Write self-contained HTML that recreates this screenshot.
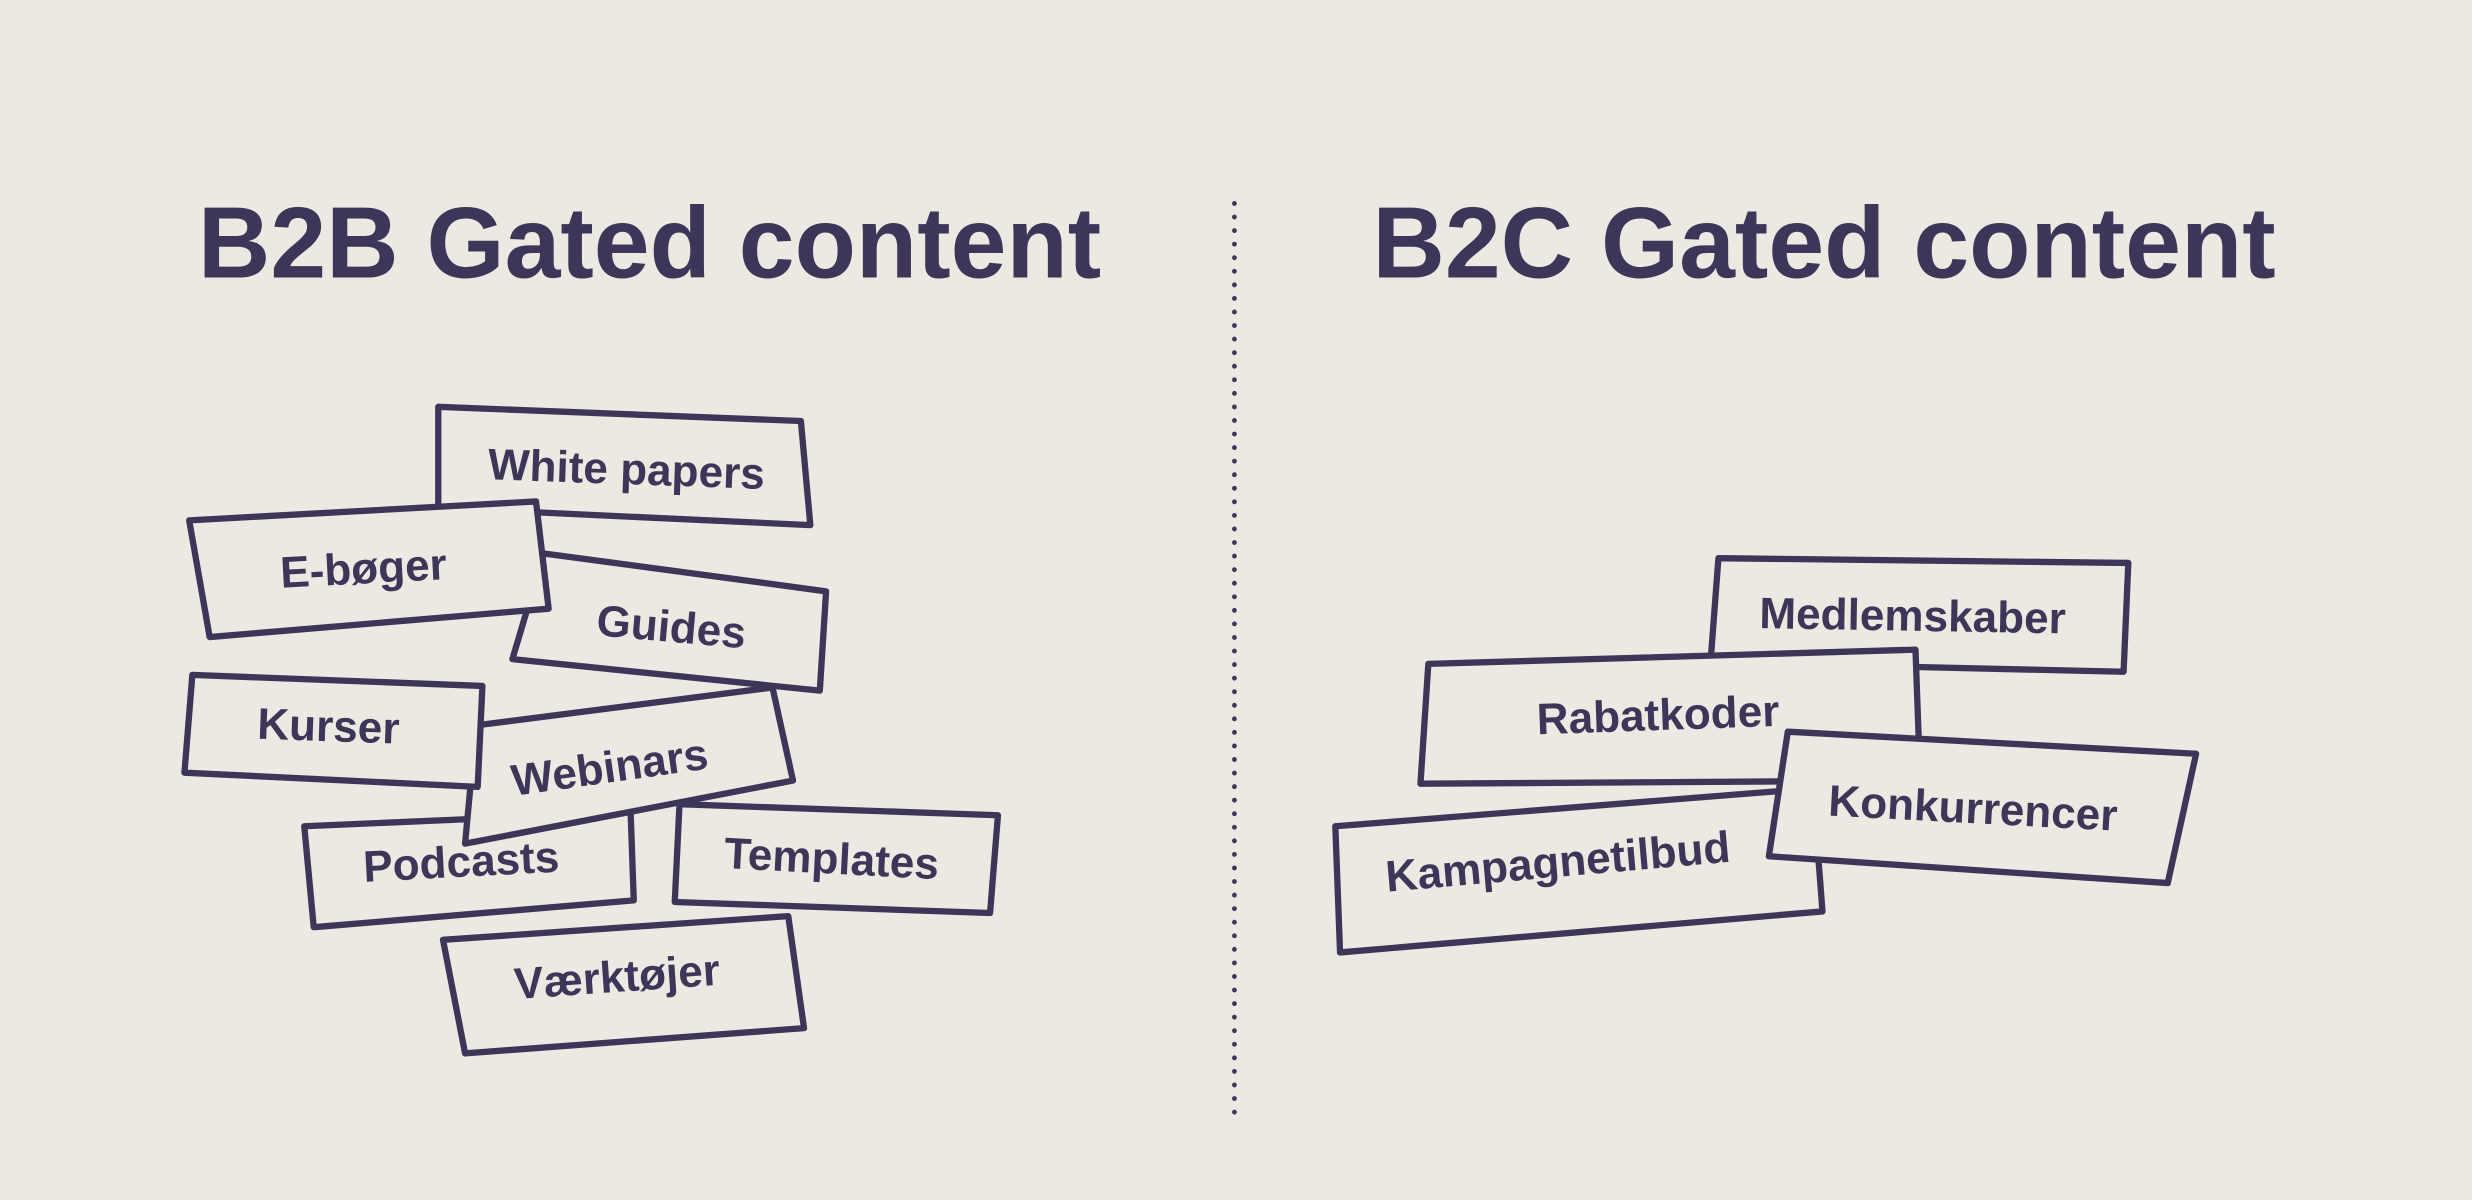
<!DOCTYPE html>
<html><head><meta charset="utf-8"><style>
html,body{margin:0;padding:0;background:#ebe9e1;}
svg{display:block}
text{font-family:"Liberation Sans",sans-serif;font-weight:bold;fill:#3d3658}
</style></head><body>
<svg width="2472" height="1200" viewBox="0 0 1568 761" preserveAspectRatio="none" xmlns="http://www.w3.org/2000/svg">
<rect width="1568" height="761" fill="#ebe9e1"/>
<text x="412" y="176" font-size="64" text-anchor="middle" textLength="573" lengthAdjust="spacingAndGlyphs">B2B Gated content</text>
<text x="1157" y="176" font-size="64" text-anchor="middle" textLength="573" lengthAdjust="spacingAndGlyphs">B2C Gated content</text>
<line x1="783" y1="129" x2="783" y2="706" stroke="#3d3658" stroke-width="3" stroke-dasharray="0.1 8.5" stroke-linecap="round"/>
<g fill="#ebe9e1" stroke="#3d3658" stroke-width="4" stroke-linejoin="round">
<polygon points="278,258 508,267 514,333 278,322"/>
<polygon points="431,510 633,517 628,579 428,572"/>
<polygon points="193,524 400,515 402,571 199,588"/>
<polygon points="302,460 490,436 503,495 295,535"/>
<polygon points="345,351 524,375 520,438 325,418"/>
<polygon points="122,428 306,435 303,499 117,490"/>
<polygon points="120,330 340,318 348,386 133,404"/>
<polygon points="281,596 500,581 510,652 295,668"/>
<polygon points="1090,354 1350,357 1347,426 1085,420"/>
<polygon points="906,421 1215,412 1218,495 901,497"/>
<polygon points="847,524 1150,500 1156,578 850,604"/>
<polygon points="1134,464 1393,478 1375,560 1122,543"/>
</g>
<g font-size="28" text-anchor="middle">
<text transform="translate(397,307) rotate(2)">White papers</text>
<text transform="translate(231,370) rotate(-3)">E-bøger</text>
<text transform="translate(425,407) rotate(5)">Guides</text>
<text transform="translate(208,470) rotate(2)">Kurser</text>
<text transform="translate(388,496) rotate(-8)">Webinars</text>
<text transform="translate(293,556) rotate(-3)">Podcasts</text>
<text transform="translate(527,554) rotate(3)">Templates</text>
<text transform="translate(392,629) rotate(-4)">Værktøjer</text>
<text transform="translate(1213,400) rotate(1)">Medlemskaber</text>
<text transform="translate(1052,463) rotate(-2)">Rabatkoder</text>
<text transform="translate(1251,522) rotate(3)">Konkurrencer</text>
<text transform="translate(989,556) rotate(-5)">Kampagnetilbud</text>
</g>
</svg>
</body></html>
